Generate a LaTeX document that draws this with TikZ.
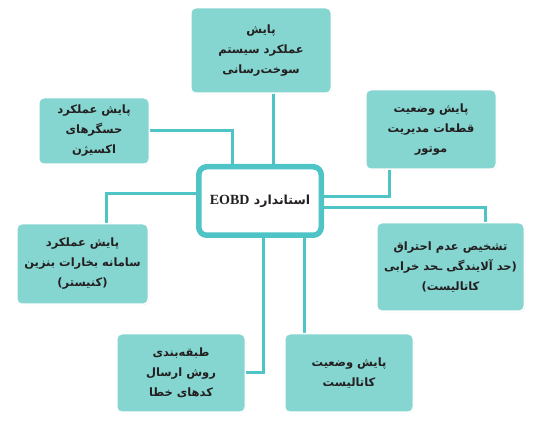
\documentclass[tikz,border=0pt]{standalone}
\usepackage{fontspec}
\TeXXeTstate=1
\newfontfamily\farsifont[Script=Arabic]{DejaVu Sans}
\newfontfamily\serifbold{Liberation Serif}
\newcommand{\fa}[1]{\beginR #1\endR}
\usetikzlibrary{backgrounds,shadows}
\definecolor{boxteal}{HTML}{85D5D1}
\definecolor{linkteal}{HTML}{4EC4C6}
\definecolor{inkgray}{HTML}{231F20}
\begin{document}
\begin{tikzpicture}[x=1pt,y=-1pt,line join=round]
			\tikzset{box style/.style={draw=white,line width=1.5pt,fill=boxteal,rounded corners=5pt,align=center,text=inkgray,inner sep=0pt,
				font=\farsifont\bfseries\fontsize{11.5}{20}\selectfont,drop shadow={opacity=.2,shadow xshift=.8pt,shadow yshift=-.8pt}},
				hub style/.style={draw=linkteal,line width=5.5pt,fill=white,rounded corners=8pt,align=center,text=inkgray,inner sep=0pt},
				link style/.style={draw=linkteal,line width=3pt}}
			\useasboundingbox (0,0) rectangle (536,427);
			\node[hub style,minimum width=122.5pt,minimum height=68.5pt] (hub) at (260,201)
				{\farsifont\bfseries\fontsize{12.5}{14}\selectfont\fa{استاندارد \beginL{\serifbold\bfseries\fontsize{14}{14}\selectfont EOBD}\endL}};
			\node[box style,minimum width=140.5pt,minimum height=85.5pt] (fuel) at (261,50.5) {\fa{پایش}\\\fa{عملکرد سیستم}\\\fa{سوخت‌رسانی}};
			\node[box style,minimum width=110.5pt,minimum height=66.5pt] (oxy) at (94,131) {\fa{پایش عملکرد}\\\fa{حسگرهای}\\\fa{اکسیژن}};
			\node[box style,minimum width=130.5pt,minimum height=79.5pt] (ecu) at (431,129.5) {\fa{پایش وضعیت}\\\fa{قطعات مدیریت}\\\fa{موتور}};
			\node[box style,minimum width=131.5pt,minimum height=80.5pt] (canister) at (82.5,264) {\fa{پایش عملکرد}\\\fa{سامانه بخارات بنزین}\\\fa{(کنیستر)}};
			\node[box style,minimum width=147.5pt,minimum height=88.5pt] (misfire) at (450.5,267) {\fa{تشخیص عدم احتراق}\\\fa{(حد آلایندگی ـحد خرابی}\\\fa{کاتالیست)}};
			\node[box style,minimum width=128.5pt,minimum height=78.5pt] (dtc) at (181,373) {\fa{طبقه‌بندی}\\\fa{روش ارسال}\\\fa{کدهای خطا}};
			\node[box style,minimum width=128.5pt,minimum height=78.5pt] (cat) at (349,373) {\fa{پایش وضعیت}\\\fa{کاتالیست}};
			\begin{scope}[on background layer]
				\draw[link style] ([xshift=12pt]fuel.south) -- ([xshift=12pt]fuel.south |- hub.north);
				\draw[link style] (oxy.east) -| ([xshift=-28pt]hub.north);
				\draw[link style] ([xshift=-42pt]ecu.south) |- ([yshift=4pt]hub.east);
				\draw[link style] ([yshift=7pt]hub.west) -| ([xshift=23.5pt]canister.north);
				\draw[link style] ([yshift=-7pt]hub.east) -| ([xshift=34.5pt]misfire.north);
				\draw[link style] ([xshift=3pt]hub.south) |- (dtc.east);
				\draw[link style] ([xshift=44pt]hub.south) -- ([xshift=44pt]hub.south |- cat.north);
			\end{scope}
		\end{tikzpicture}
\end{document}
